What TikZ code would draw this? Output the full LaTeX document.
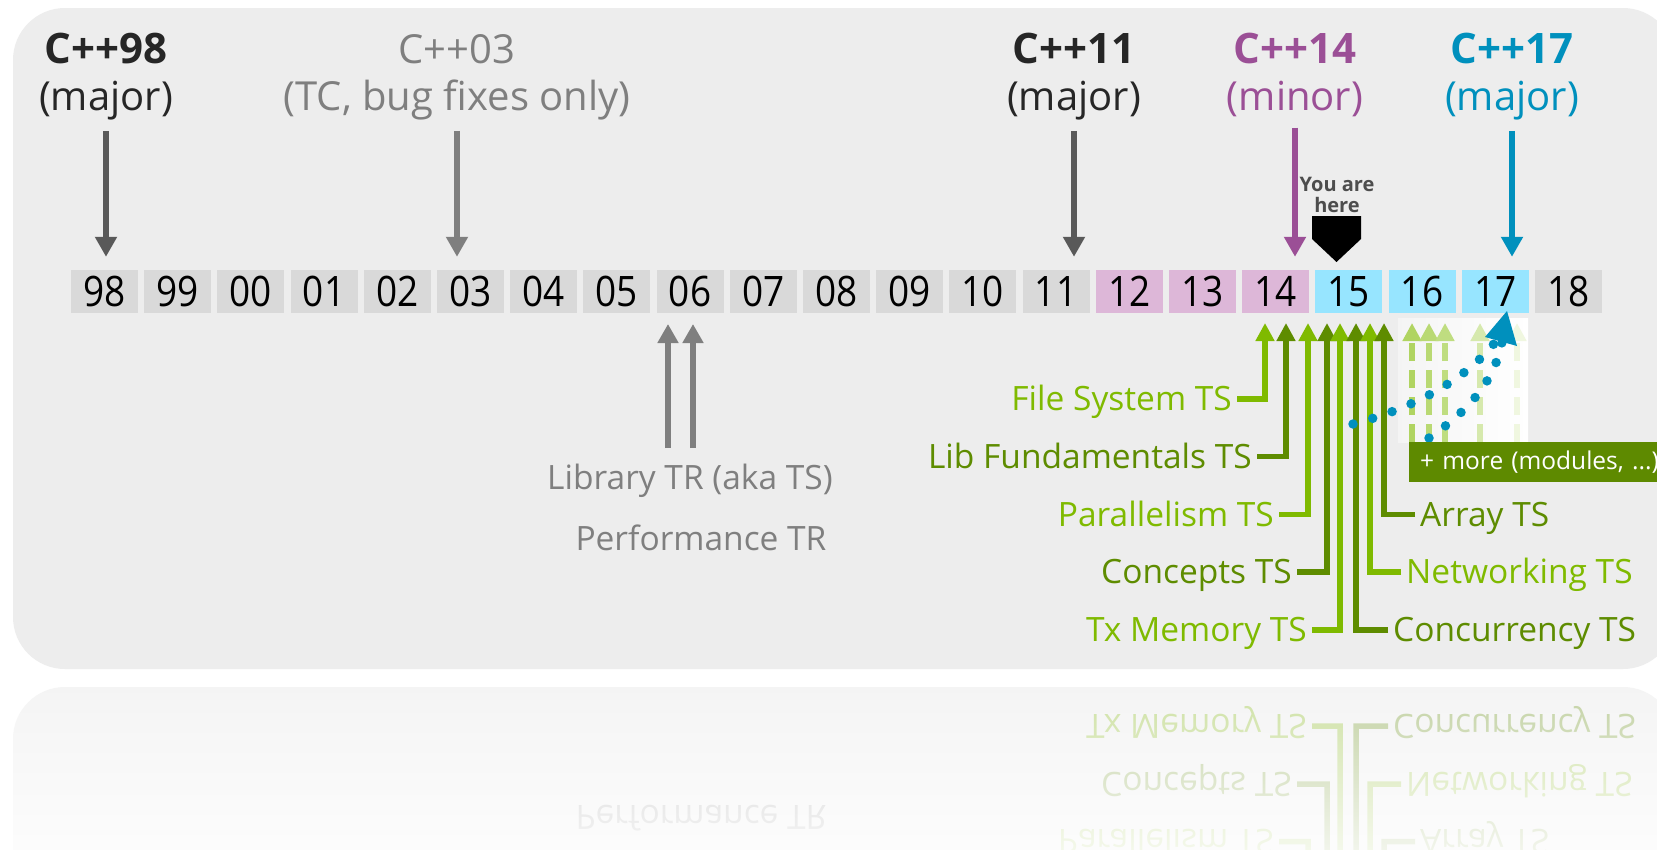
\documentclass[tikz,border=0pt]{standalone}
\usepackage{fontspec}
\setmainfont{Open Sans}
\newfontfamily\yearfont[FakeStretch=0.88]{Open Sans}
\usetikzlibrary{arrows.meta,fadings}

\definecolor{panel}{HTML}{EDEDED}
\definecolor{reflpanel}{HTML}{F4F4F4}
\definecolor{darktxt}{HTML}{262626}
\definecolor{arrdark}{HTML}{595959}
\definecolor{graytxt}{HTML}{7F7F7F}
\definecolor{cpurple}{HTML}{9B4F96}
\definecolor{cblue}{HTML}{0090BD}
\definecolor{boxgray}{HTML}{D9D9D9}
\definecolor{boxpurple}{HTML}{DDB7D8}
\definecolor{boxblue}{HTML}{97E5FF}
\definecolor{glight}{HTML}{7FBA00}
\definecolor{gdark}{HTML}{5E8C00}
\definecolor{gbox}{HTML}{5E8A00}
\definecolor{herecol}{HTML}{4D4D4D}

\tikzfading[name=reflfade, top color=transparent!100, bottom color=transparent!0]

\tikzset{
  head/.style={font=\fontsize{40}{44}\selectfont, anchor=base, inner sep=0pt},
  headbold/.style={font=\fontsize{42}{46}\selectfont\bfseries, anchor=base, inner sep=0pt},
  yearbox/.style={minimum width=67pt, minimum height=43pt, inner sep=0pt,
    font=\yearfont\fontsize{42}{46}\selectfont, text height=30pt, text depth=0pt, text=black},
  bigarrow/.style={line width=6.5pt, -{Triangle[width=21pt,length=20pt]}, shorten <=11pt, shorten >=13pt},
  tsl/.style={font=\fontsize{33.5}{37}\selectfont, inner xsep=5pt, inner ysep=0pt,
    text height=23.9pt, text depth=0pt},
  gline/.style={line width=5.5pt, -{Triangle[width=18pt,length=18pt]}, line join=miter},
  fadedarrow/.style={line width=5.5pt, dash pattern=on 18pt off 9pt, -{Triangle[width=18pt,length=18pt]}},
  graylbl/.style={font=\fontsize{33.5}{37}\selectfont, text=graytxt, inner sep=0pt},
  bluedots/.style={cblue, line width=9.5pt, line cap=round, dash pattern=on 0pt off 20.5pt},
  morebox/.style={fill=gbox, text=white, font=\fontsize{24.5}{28}\selectfont, minimum height=40pt,
    text width=290pt, inner xsep=11pt, align=left},
}

\newcommand{\tsblock}[1]{%
  \node[tsl, text=glight, anchor=east] (#1fs) at (1237,399) {File System TS};
  \node[tsl, text=gdark, anchor=east] (#1lf) at (1257,456.5) {Lib Fundamentals TS};
  \node[tsl, text=glight, anchor=east] (#1pa) at (1279,514.5) {Parallelism TS};
  \node[tsl, text=gdark, anchor=east] (#1co) at (1297,572) {Concepts TS};
  \node[tsl, text=glight, anchor=east] (#1tx) at (1312,630) {Tx Memory TS};
  \node[tsl, text=gdark, anchor=west] (#1cc) at (1388,630) {Concurrency TS};
  \node[tsl, text=glight, anchor=west] (#1nw) at (1401,572) {Networking TS};
  \node[tsl, text=gdark, anchor=west] (#1ar) at (1415,514.5) {Array TS};
  \coordinate (#1fsT) at (1265,323);
  \coordinate (#1lfT) at (1286,323);
  \coordinate (#1paT) at (1308,323);
  \coordinate (#1coT) at (1327,323);
  \coordinate (#1txT) at (1340,323);
  \coordinate (#1ccT) at (1356,323);
  \coordinate (#1nwT) at (1370,323);
  \coordinate (#1arT) at (1384,323);
  \draw[gline, glight] (#1fs) -| (#1fsT);
  \draw[gline, gdark] (#1lf) -| (#1lfT);
  \draw[gline, glight] (#1pa) -| (#1paT);
  \draw[gline, gdark] (#1co) -| (#1coT);
  \draw[gline, glight] (#1tx) -| (#1txT);
  \draw[gline, gdark] (#1cc) -| (#1ccT);
  \draw[gline, glight] (#1nw) -| (#1nwT);
  \draw[gline, gdark] (#1ar) -| (#1arT);
}

\begin{document}
\begin{tikzpicture}[x=1pt,y=-1pt]
\useasboundingbox (0,0) rectangle (1657,849);
\fill[white] (0,0) rectangle (1657,849);

% ---------- reflection ----------
\fill[reflpanel, rounded corners=52pt] (13,687) rectangle (1675,1348);
\begin{scope}[transparency group, opacity=0.35]
  \begin{scope}[shift={(0,1356)}, yscale=-1, transform shape]
    \tsblock{r}
    \node[graylbl] (rperf) at (701,538) {Performance TR};
  \end{scope}
\end{scope}
\fill[white, path fading=reflfade] (-20,672) rectangle (1680,895);

% ---------- panel ----------
\fill[panel, rounded corners=52pt] (13,8) rectangle (1675,669);

% ---------- year boxes ----------
\foreach \lab/\col [count=\i from 0] in {98/boxgray,99/boxgray,00/boxgray,01/boxgray,02/boxgray,03/boxgray,04/boxgray,05/boxgray,06/boxgray,07/boxgray,08/boxgray,09/boxgray,10/boxgray,11/boxgray,12/boxpurple,13/boxpurple,14/boxpurple,15/boxblue,16/boxblue,17/boxblue,18/boxgray}
  \node[yearbox, fill=\col] (y\lab) at ({104.5+73.2*\i},291.5) {\lab};

% ---------- headers ----------
\node[headbold, text=darktxt] (h98a) at (106,63) {C++98};
\node[head, text=darktxt] (h98b) at (106,110) {(major)};
\node[head, text=graytxt] (h03a) at (457,63) {C++03};
\node[head, text=graytxt] (h03b) at (457,110) {(TC, bug fixes only)};
\node[headbold, text=darktxt] (h11a) at (1074,63) {C++11};
\node[head, text=darktxt] (h11b) at (1074,110) {(major)};
\node[headbold, text=cpurple] (h14a) at (1295,63) {C++14};
\node[head, text=cpurple] (h14b) at (1295,110) {(minor)};
\node[headbold, text=cblue] (h17a) at (1512,63) {C++17};
\node[head, text=cblue] (h17b) at (1512,110) {(major)};

\draw[bigarrow, arrdark] (h98b.south) -- (h98b.south |- y98.north);
\draw[bigarrow, graytxt] (h03b.south) -- (h03b.south |- y03.north);
\draw[bigarrow, arrdark] (h11b.south) -- (h11b.south |- y11.north);
\draw[bigarrow, cpurple] (h14b.south) -- (h14b.south |- y14.north);
\draw[bigarrow, cblue] (h17b.south) -- (h17b.south |- y17.north);

% ---------- you are here ----------
\node[font=\bfseries\fontsize{20}{21}\selectfont, text=herecol, align=center, inner sep=0pt] (yah) at (1337,195) {You are\\here};
\fill[black] (1312,216) -- (1361,216) -- (1361,239) -- (1336.5,262) -- (1312,239) -- cycle;

% ---------- library TR ----------
\node[graylbl] (lib) at (690,481) {Library TR (aka TS)};
\node[graylbl] (perf) at (701,538) {Performance TR};
\coordinate (libA0) at (668,448);
\coordinate (libA1) at (668,324);
\coordinate (libB0) at (693,448);
\coordinate (libB1) at (693,324);
\draw[line width=6.5pt, -{Triangle[width=20pt,length=19pt]}, graytxt] (libA0) -- (libA1);
\draw[line width=6.5pt, -{Triangle[width=20pt,length=19pt]}, graytxt] (libB0) -- (libB1);

% ---------- future (faded) ----------
\shade[left color=panel!60!white, right color=white] (1398,318) rectangle (1528,442);
\coordinate (d1b) at (1412,442); \coordinate (d1t) at (1412,323);
\coordinate (d2b) at (1429,442); \coordinate (d2t) at (1429,323);
\coordinate (d3b) at (1445,442); \coordinate (d3t) at (1445,323);
\coordinate (d4b) at (1480,442); \coordinate (d4t) at (1480,323);
\coordinate (d5b) at (1517,442); \coordinate (d5t) at (1517,323);
\draw[fadedarrow, glight!62!white] (d1b) -- (d1t);
\draw[fadedarrow, glight!55!white] (d2b) -- (d2t);
\draw[fadedarrow, glight!50!white] (d3b) -- (d3t);
\draw[fadedarrow, glight!32!white] (d4b) -- (d4t);
\draw[fadedarrow, glight!12!white] (d5b) -- (d5t);

% ---------- TS block ----------
\tsblock{m}

% ---------- blue dotted arrow ----------
\coordinate (bA0) at (1353,424);
\coordinate (bA1) at (1496,341);
\coordinate (bB0) at (1429,438);
\coordinate (bB1) at (1502,342);
\coordinate (bTip) at (1507,311);
\draw[bluedots] (bA0) .. controls (1415,408) and (1468,378) .. (bA1);
\draw[bluedots] (bB0) .. controls (1465,413) and (1494,384) .. (bB1);
\fill[cblue] (bTip) -- (1485,337) -- (1517,346) -- cycle;

% ---------- more box ----------
\node[morebox, anchor=north west] (more) at (1409,442) {+ more (modules, ...)};
\end{tikzpicture}
\end{document}
